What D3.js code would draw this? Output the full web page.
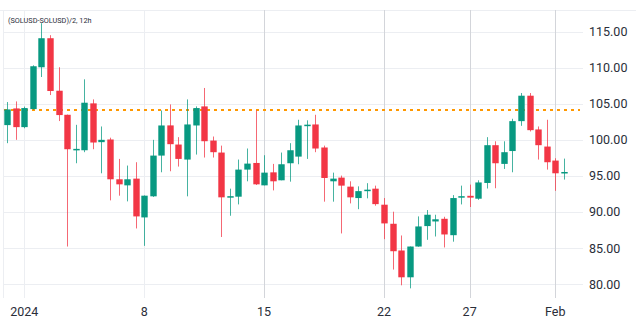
<!DOCTYPE html>
<html>
<head>
<meta charset="utf-8">
<script src="https://cdn.jsdelivr.net/npm/d3@7"></script>
<style>
  html, body { margin: 0; padding: 0; background: #fff; }
  svg { display: block; font-family: Roboto, "Noto Sans", sans-serif; }
</style>
</head>
<body>
<svg id="chart" width="636" height="323"></svg>
<script>
// (SOLUSD-SOLUSD)/2 — 12h candles
const times = [
  "2023-12-31T00:00","2023-12-31T12:00",
  "2024-01-01T00:00","2024-01-01T12:00","2024-01-02T00:00","2024-01-02T12:00",
  "2024-01-03T00:00","2024-01-03T12:00","2024-01-04T00:00","2024-01-04T12:00",
  "2024-01-05T00:00","2024-01-05T12:00","2024-01-06T00:00","2024-01-06T12:00",
  "2024-01-07T00:00","2024-01-07T12:00","2024-01-08T00:00","2024-01-08T12:00",
  "2024-01-09T00:00","2024-01-09T12:00","2024-01-10T00:00","2024-01-10T12:00",
  "2024-01-11T00:00","2024-01-11T12:00","2024-01-12T00:00","2024-01-12T12:00",
  "2024-01-13T00:00","2024-01-13T12:00","2024-01-14T00:00","2024-01-14T12:00",
  "2024-01-15T00:00","2024-01-15T12:00","2024-01-16T00:00","2024-01-16T12:00",
  "2024-01-17T00:00","2024-01-17T12:00","2024-01-18T00:00","2024-01-18T12:00",
  "2024-01-19T00:00","2024-01-19T12:00","2024-01-20T00:00","2024-01-20T12:00",
  "2024-01-21T00:00","2024-01-21T12:00","2024-01-22T00:00","2024-01-22T12:00",
  "2024-01-23T00:00","2024-01-23T12:00","2024-01-24T00:00","2024-01-24T12:00",
  "2024-01-25T00:00","2024-01-25T12:00","2024-01-26T00:00","2024-01-26T12:00",
  "2024-01-27T00:00","2024-01-27T12:00","2024-01-28T00:00","2024-01-28T12:00",
  "2024-01-29T00:00","2024-01-29T12:00","2024-01-30T00:00","2024-01-30T12:00",
  "2024-01-31T00:00","2024-01-31T12:00","2024-02-01T00:00","2024-02-01T12:00"
];
const opens = [
  102.04,104.35,101.76,104.26,110.05,114.07,106.80,103.47,98.60,98.56,
  105.05,99.68,100.05,94.54,93.70,94.63,89.26,92.18,97.82,102.00,
  99.35,97.27,101.99,104.63,99.90,98.24,92.10,92.13,95.88,96.80,
  93.70,95.50,94.40,96.76,97.68,101.97,102.13,98.94,94.26,94.77,
  93.52,91.94,92.95,93.24,91.02,88.38,84.68,80.97,85.23,88.06,
  88.70,89.07,86.80,92.00,92.25,91.85,94.03,99.26,96.67,98.45,
  102.59,106.11,101.44,99.07,97.13,95.40
];
const highs = [
  105.23,105.32,104.60,110.32,116.15,114.49,110.05,103.50,102.08,108.38,
  105.60,101.85,100.30,97.36,96.44,96.90,92.30,100.00,104.07,104.90,
  100.37,105.60,104.63,107.18,100.46,99.20,93.24,97.27,98.80,104.07,
  97.87,96.67,98.24,99.54,102.78,102.70,103.47,99.20,95.46,95.05,
  94.26,93.56,94.00,93.66,91.94,90.05,86.76,85.23,89.40,90.28,
  89.63,89.35,92.35,93.66,93.80,94.40,100.37,99.80,99.80,102.92,
  106.48,106.48,101.85,102.78,97.45,97.40
];
const lows = [
  99.54,100.00,101.60,104.17,108.70,106.20,102.60,85.23,96.76,98.29,
  98.70,95.37,91.62,92.27,91.48,87.73,85.32,92.10,95.51,95.65,
  96.30,92.18,97.96,97.55,97.55,86.55,89.49,91.06,94.26,93.75,
  93.70,93.00,94.40,94.21,96.62,97.36,98.29,91.44,91.44,87.04,
  91.20,90.40,91.90,90.88,86.25,82.04,79.86,79.44,85.20,86.16,
  86.62,85.10,85.90,91.06,90.70,91.70,93.26,93.30,95.97,95.51,
  101.94,101.16,97.27,95.88,92.94,94.50
];
const closes = [
  104.21,101.76,104.40,110.19,114.07,106.76,103.43,98.70,98.75,105.14,
  99.63,100.00,94.54,93.84,94.54,89.40,92.27,97.82,101.99,99.40,
  97.36,102.13,104.40,99.81,98.29,92.04,92.20,95.88,96.71,93.84,
  95.46,94.26,96.62,98.56,101.99,102.10,98.80,94.72,94.63,93.66,
  92.04,92.90,93.10,91.10,88.43,84.58,80.97,85.23,88.01,89.63,
  89.00,86.90,91.94,92.20,92.00,94.10,99.26,96.76,98.29,102.59,
  106.11,101.34,99.26,96.90,95.37,95.55
];
const priceTicks = [80, 85, 90, 95, 100, 105, 110, 115];
const timeTicks = ["2024-01-01T00:00","2024-01-08T00:00","2024-01-15T00:00",
                   "2024-01-22T00:00","2024-01-27T00:00","2024-02-01T00:00"];
const timeTickLabels = ["2024", "8", "15", "22", "27", "Feb"];
const referenceLevel = 104.14;
const title = "(SOLUSD-SOLUSD)/2, 12h";

const parse = d3.timeParse("%Y-%m-%dT%H:%M");
const candles = times.map((t, i) => ({
  t: parse(t), o: opens[i], h: highs[i], l: lows[i], c: closes[i]
}));

const W = 636, H = 323;
const pane = { left: 3, right: 583, top: 10, bottom: 298 };

const x = d3.scaleTime()
  .domain([parse("2024-01-01T00:00"), parse("2024-02-01T00:00")])
  .range([24.3, 555.3]);
const y = d3.scaleLinear().domain([80, 115]).range([284.3, 31.5]);

const svg = d3.select("#chart");
const UP = "#089981", DOWN = "#f23645";

// pane frame
svg.append("line").attr("x1", 0).attr("x2", W).attr("y1", pane.top + 0.5).attr("y2", pane.top + 0.5)
  .attr("stroke", "#eceef2");
svg.append("line").attr("x1", pane.left + 0.5).attr("x2", pane.left + 0.5)
  .attr("y1", pane.top).attr("y2", pane.bottom).attr("stroke", "#eceef2");

// horizontal price grid
svg.append("g").selectAll("line").data(priceTicks).join("line")
  .attr("x1", pane.left).attr("x2", pane.right)
  .attr("y1", d => Math.round(y(d)) + 0.5).attr("y2", d => Math.round(y(d)) + 0.5)
  .attr("stroke", "#eceef2");

// vertical time grid; separators from mid-January on are drawn stronger
const strongFrom = parse("2024-01-15T00:00");
const tickDates = timeTicks.map(parse);
svg.append("g").selectAll("line").data(tickDates).join("line")
  .attr("x1", d => Math.round(x(d)) + 0.5).attr("x2", d => Math.round(x(d)) + 0.5)
  .attr("y1", pane.top).attr("y2", pane.bottom)
  .attr("stroke", d => d >= strongFrom ? "#d3d5da" : "#eceef2");

// reference level
svg.append("line")
  .attr("x1", pane.left + 1).attr("x2", pane.right - 3)
  .attr("y1", y(referenceLevel)).attr("y2", y(referenceLevel))
  .attr("stroke", "#ff9800").attr("stroke-width", 2)
  .attr("stroke-dasharray", "3,4");

// candles
const bodyW = 6.4;
const g = svg.append("g");
g.selectAll("line.wick").data(candles).join("line")
  .attr("class", "wick")
  .attr("x1", d => Math.round(x(d.t)) + 0.5).attr("x2", d => Math.round(x(d.t)) + 0.5)
  .attr("y1", d => y(d.h)).attr("y2", d => y(d.l))
  .attr("stroke", d => d.c >= d.o ? UP : DOWN)
  .attr("stroke-opacity", 0.75);
g.selectAll("rect.body").data(candles).join("rect")
  .attr("class", "body")
  .attr("x", d => Math.round(x(d.t)) + 0.5 - bodyW / 2)
  .attr("width", bodyW)
  .attr("y", d => y(Math.max(d.o, d.c)))
  .attr("height", d => Math.max(1.5, Math.abs(y(d.o) - y(d.c))))
  .attr("fill", d => d.c >= d.o ? UP : DOWN);

// price axis labels
svg.append("g").selectAll("text").data(priceTicks).join("text")
  .attr("x", 589).attr("y", d => y(d)).attr("dy", "0.35em")
  .attr("font-size", 12.5).attr("fill", "#2a2e39")
  .text(d => d3.format(".2f")(d));

// time axis labels
svg.append("g").selectAll("text").data(tickDates).join("text")
  .attr("x", d => x(d)).attr("y", 312).attr("dy", "0.35em")
  .attr("text-anchor", "middle")
  .attr("font-size", 12.5).attr("fill", "#2a2e39")
  .text((d, i) => timeTickLabels[i]);

// legend title
svg.append("text").attr("x", 8).attr("y", 20).attr("dy", "0.35em")
  .attr("font-size", 7.3).attr("fill", "#2a2e39")
  .text(title);
</script>
</body>
</html>
